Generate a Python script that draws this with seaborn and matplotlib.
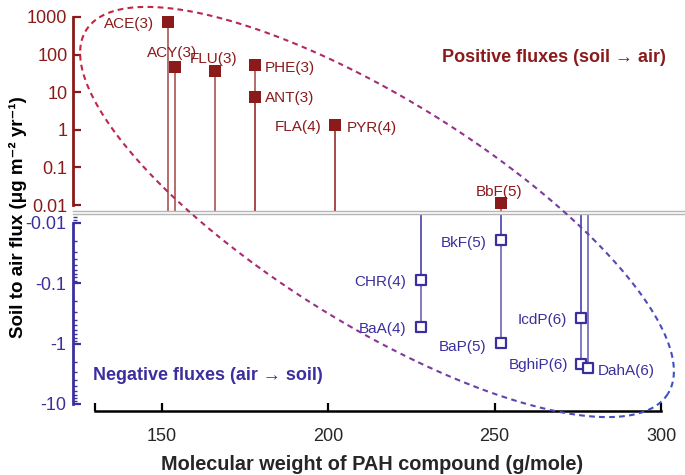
import numpy as np
import matplotlib
matplotlib.use('Agg')
import matplotlib.pyplot as plt
import seaborn as sns
from matplotlib.collections import LineCollection
from matplotlib.colors import LinearSegmentedColormap
from matplotlib.ticker import FixedLocator, FixedFormatter, LogLocator

# positive fluxes (soil -> air)
pos_names = ['ACE(3)', 'ACY(3)', 'FLU(3)', 'PHE(3)', 'ANT(3)', 'FLA(4)', 'PYR(4)', 'BbF(5)']
pos_mw = [152, 154, 166, 178, 178, 202, 202, 252]
pos_flux = [740, 48, 37, 52, 7.6, 1.35, 1.35, 0.011]

# negative fluxes (air -> soil)
neg_names = ['CHR(4)', 'BaA(4)', 'BkF(5)', 'BaP(5)', 'IcdP(6)', 'BghiP(6)', 'DahA(6)']
neg_mw = [228, 228, 252, 252, 276, 276, 278]
neg_flux = [-0.088, -0.53, -0.019, -0.97, -0.38, -2.2, -2.5]

pos_ticks = [0.01, 0.1, 1, 10, 100, 1000]
pos_ticklabels = ['0.01', '0.1', '1', '10', '100', '1000']
neg_ticks = [-0.01, -0.1, -1, -10]
neg_ticklabels = ['-0.01', '-0.1', '-1', '-10']
x_ticks = [130, 150, 200, 250, 300]
x_ticklabels = ['', '150', '200', '250', '300']

# label offsets in pixels (dx, dy, ha)
pos_offsets = [(-14, -2, 'right'), (-3, 14, 'center'), (-1, 12, 'center'), (10, -3, 'left'),
               (10, -1, 'left'), (-13, -2, 'right'), (12, -3, 'left'), (-2, 11, 'center')]
neg_offsets = [(-15, -2, 'right'), (-15, -2, 'right'), (-15, -3, 'right'), (-15, -4, 'right'),
               (-14, -2, 'right'), (-13, -1, 'right'), (10, -3, 'left')]

RED = '#8b1a1a'
RED_STEM = '#a04545'
BLUE = '#3b2f9e'
BLUE_STEM = '#5e56b4'

sns.set_theme(style='white')
plt.rcParams['font.family'] = ['Liberation Sans', 'DejaVu Sans']

W, H = 685, 475
fig = plt.figure(figsize=(W / 100, H / 100), dpi=100)

xlim = (123.39, 307.21)
ax_top = fig.add_axes([73 / W, (H - 211) / H, 612 / W, 201 / H])
ax_bot = fig.add_axes([73 / W, (H - 404) / H, 612 / W, 190 / H])

# ---- top panel
ax_top.set_yscale('log')
ax_top.set_xlim(*xlim)
ax_top.set_ylim(0.00693, 1535)
ax_top.vlines(pos_mw, 0.00693, pos_flux, color=RED_STEM, lw=1.1, zorder=2)
sns.scatterplot(x=pos_mw, y=pos_flux, marker='s', s=75, color=RED, edgecolor=RED,
                linewidth=0, ax=ax_top, zorder=3, clip_on=False)
for name, x, y, (dx, dy, ha) in zip(pos_names, pos_mw, pos_flux, pos_offsets):
    ax_top.annotate(name, (x, y), xytext=(dx, dy), textcoords='offset pixels',
                    ha=ha, va='center', fontsize=11, color=RED)
ax_top.yaxis.set_major_locator(FixedLocator(pos_ticks))
ax_top.yaxis.set_major_formatter(FixedFormatter(pos_ticklabels))
ax_top.yaxis.set_minor_locator(LogLocator(base=10, subs=np.arange(2, 10)))
ax_top.set_xticks([])
for s in ['top', 'right']:
    ax_top.spines[s].set_visible(False)
ax_top.spines['bottom'].set_color('#b5b5b5')
ax_top.spines['bottom'].set_linewidth(1)
ax_top.spines['left'].set_color(RED)
ax_top.spines['left'].set_linewidth(2)
ax_top.spines['left'].set_bounds(0.01, 1000)
ax_top.tick_params(axis='y', which='major', direction='in', length=6, width=1.6, color=RED,
                   labelcolor=RED, labelsize=13, pad=4, left=True)
ax_top.tick_params(axis='y', which='minor', direction='in', length=3, width=1, color=RED, left=True)
fig.text(554 / W, 1 - 58 / H, 'Positive fluxes (soil \u2192 air)', ha='center', va='center',
         fontsize=13, fontweight='bold', color=RED)

# ---- bottom panel
neg_abs = np.abs(neg_flux)
ax_bot.set_yscale('log')
ax_bot.set_xlim(*xlim)
ax_bot.set_ylim(10, 0.0071)
ax_bot.vlines(neg_mw, 0.0071, neg_abs, color=BLUE_STEM, lw=1.1, zorder=2)
sns.scatterplot(x=neg_mw, y=neg_abs, marker='s', s=55, color='white', edgecolor=BLUE,
                linewidth=1.6, ax=ax_bot, zorder=3)
for name, x, y, (dx, dy, ha) in zip(neg_names, neg_mw, neg_abs, neg_offsets):
    ax_bot.annotate(name, (x, y), xytext=(dx, dy), textcoords='offset pixels',
                    ha=ha, va='center', fontsize=11, color=BLUE)
ax_bot.yaxis.set_major_locator(FixedLocator(np.abs(neg_ticks)))
ax_bot.yaxis.set_major_formatter(FixedFormatter(neg_ticklabels))
ax_bot.yaxis.set_minor_locator(LogLocator(base=10, subs=np.arange(2, 10)))
ax_bot.spines['right'].set_visible(False)
ax_bot.spines['top'].set_color('#b5b5b5')
ax_bot.spines['top'].set_linewidth(1)
ax_bot.spines['left'].set_color(BLUE)
ax_bot.spines['left'].set_linewidth(2)
ax_bot.spines['left'].set_bounds(0.01, 10)
ax_bot.spines['bottom'].set_color('black')
ax_bot.spines['bottom'].set_linewidth(1.8)
ax_bot.spines['bottom'].set_bounds(130, 300)
ax_bot.spines['bottom'].set_position(('outward', 5))
ax_bot.tick_params(axis='y', which='major', direction='in', length=6, width=1.6, color=BLUE,
                   labelcolor=BLUE, labelsize=13, pad=5, left=True)
ax_bot.tick_params(axis='y', which='minor', direction='in', length=3, width=1, color=BLUE, left=True)
ax_bot.set_xticks(x_ticks)
ax_bot.set_xticklabels(x_ticklabels)
ax_bot.tick_params(axis='x', direction='in', length=6, width=1.6, color='black',
                   labelsize=13, pad=12, bottom=True)
ax_bot.set_xlabel('Molecular weight of PAH compound (g/mole)', fontsize=14.3,
                  fontweight='bold', labelpad=8)
ax_bot.xaxis.set_label_coords((372 - 73) / 612, -0.27)
fig.text(93 / W, 1 - 375 / H, 'Negative fluxes (air \u2192 soil)', ha='left', va='center',
         fontsize=13, fontweight='bold', color=BLUE)

fig.text(18 / W, 1 - 217 / H, 'Soil to air flux (\u03bcg m\u207b\u00b2 yr\u207b\u00b9)', rotation=90,
         ha='center', va='center', fontsize=13.5, fontweight='bold', color='black')

# ---- dashed ellipse with red-to-blue gradient (figure pixels)
ov = fig.add_axes([0, 0, 1, 1], zorder=5)
ov.set_xlim(0, W)
ov.set_ylim(H, 0)
ov.axis('off')
ov.patch.set_alpha(0)
cx, cy, a, b, th = 377, 212, 343, 112, np.deg2rad(32)
t = np.linspace(0, 2 * np.pi, 4000)
ex = cx + a * np.cos(t) * np.cos(th) - b * np.sin(t) * np.sin(th)
ey = cy + a * np.cos(t) * np.sin(th) + b * np.sin(t) * np.cos(th)
proj = (np.cos(t) + 1) / 2  # position along the major axis, 1 = lower-right tip
seg_len = np.concatenate([[0], np.cumsum(np.hypot(np.diff(ex), np.diff(ey)))])
dash, gap = 6.0, 4.0
cmap = LinearSegmentedColormap.from_list('rb', ['#c8243a', '#9b2f86', '#3a52c6'])
segs, cols = [], []
s0 = 0.0
while s0 < seg_len[-1]:
    m = (seg_len >= s0) & (seg_len <= s0 + dash)
    if m.sum() > 1:
        segs.append(np.column_stack([ex[m], ey[m]]))
        cols.append(cmap(proj[m].mean()))
    s0 += dash + gap
ov.add_collection(LineCollection(segs, colors=cols, linewidths=1.5))

fig.savefig('out.png', dpi=100)
